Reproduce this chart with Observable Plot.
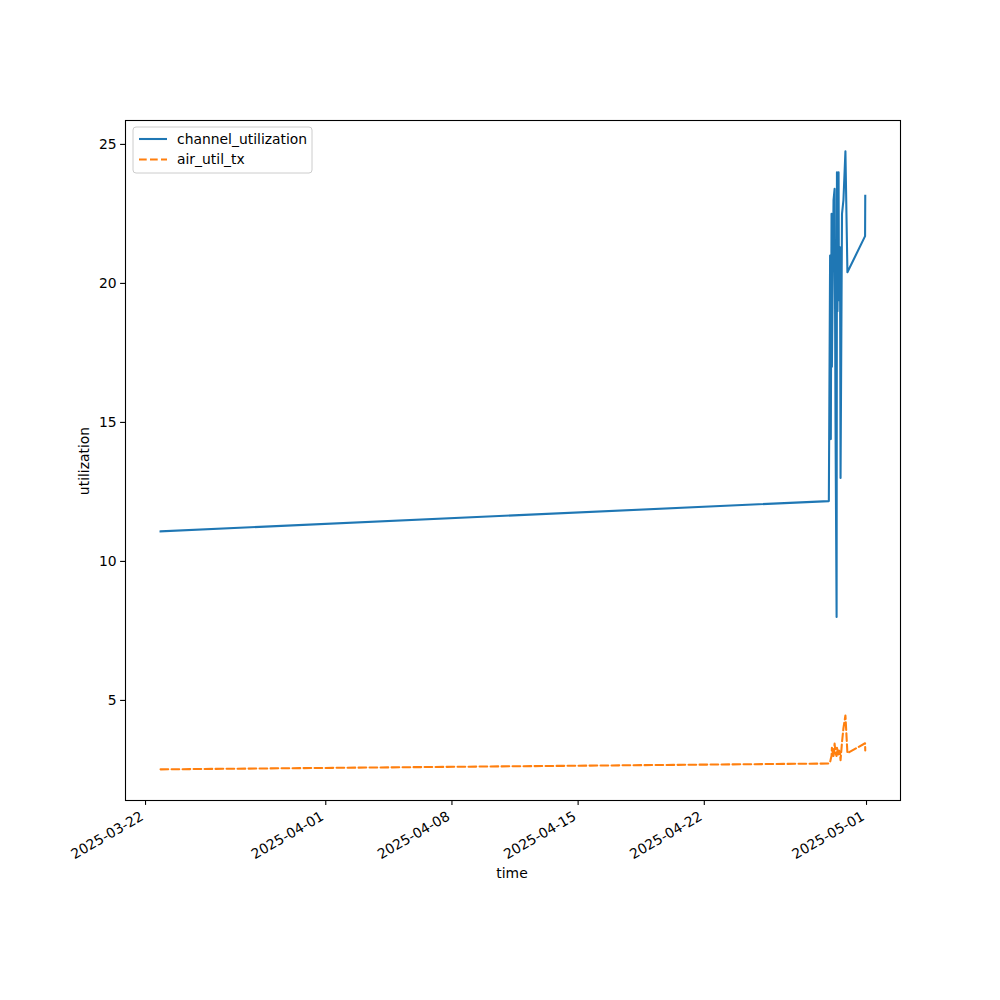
<!DOCTYPE html>
<html>
<head>
<meta charset="utf-8">
<script src="https://cdn.jsdelivr.net/npm/d3@7"></script>
<script src="https://cdn.jsdelivr.net/npm/@observablehq/plot@0.6"></script>
<style>
  html, body { margin: 0; padding: 0; background: #fff; }
  #chart { position: relative; width: 1000px; height: 1000px; }
  svg { font-family: "DejaVu Sans", sans-serif; }
</style>
</head>
<body>
<div id="chart"></div>
<script>
// ---- data ----
const times = [
  "2025-03-22T20:00", "2025-04-28T21:50", "2025-04-28T23:31", "2025-04-29T00:29",
  "2025-04-29T01:26", "2025-04-29T01:55", "2025-04-29T04:05", "2025-04-29T05:31",
  "2025-04-29T06:43", "2025-04-29T08:10", "2025-04-29T08:38", "2025-04-29T09:22",
  "2025-04-29T10:48", "2025-04-29T11:17", "2025-04-29T12:43", "2025-04-29T13:26",
  "2025-04-29T15:22", "2025-04-29T17:17", "2025-04-29T19:55", "2025-04-29T22:34",
  "2025-04-30T22:05", "2025-04-30T22:19"
];
const channelUtilization = [
  11.08, 12.17, 21.0, 14.4, 22.5, 17.0, 23.0, 23.4, 15.0, 8.0, 24.0,
  19.0, 24.0, 19.4, 21.3, 13.0, 22.5, 23.0, 24.75, 20.4, 21.7, 23.15
];
const airUtilTx = [
  2.52, 2.73, 2.78, 2.9, 3.0, 3.3, 3.0, 3.45, 3.1, 3.0, 3.3,
  3.2, 3.0, 3.2, 3.1, 2.85, 3.5, 4.0, 4.46, 3.1, 3.46, 3.2
];
const seriesNames = ["channel_utilization", "air_util_tx"];
const seriesColors = ["#1f77b4", "#ff7f0e"];
const xTicks = ["2025-03-22", "2025-04-01", "2025-04-08", "2025-04-15", "2025-04-22", "2025-05-01"];
const yTicks = [5, 10, 15, 20, 25];
const xDomain = ["2025-03-20T21:20", "2025-05-02T21:15"];
const yDomain = [1.40, 25.86];

const parse = d3.utcParse("%Y-%m-%dT%H:%M");
const parseDay = d3.utcParse("%Y-%m-%d");
const fmtDay = d3.utcFormat("%Y-%m-%d");
const rows = [];
times.forEach((t, i) => {
  rows.push({time: parse(t), value: channelUtilization[i], series: seriesNames[0]});
});
times.forEach((t, i) => {
  rows.push({time: parse(t), value: airUtilTx[i], series: seriesNames[1]});
});
const tickDates = xTicks.map(parseDay);

const fs = 13.9;
const plot = Plot.plot({
  width: 1000,
  height: 1000,
  marginLeft: 125,
  marginRight: 100,
  marginTop: 120,
  marginBottom: 200,
  style: {fontFamily: "DejaVu Sans, sans-serif", fontSize: fs + "px", color: "#000", background: "#fff"},
  x: {type: "utc", domain: xDomain.map(parse)},
  y: {domain: yDomain},
  marks: [
    Plot.frame({stroke: "#000", strokeWidth: 1.1}),
    Plot.axisY({ticks: yTicks, tickSize: 4.9, tickPadding: 4, label: null, stroke: "#000", fill: "#000", strokeWidth: 1.1}),
    Plot.axisX({ticks: tickDates, tickSize: 4.9, tickFormat: () => "", label: null, stroke: "#000", strokeWidth: 1.1}),
    Plot.text(tickDates, {
      x: d => d, frameAnchor: "bottom", text: d => fmtDay(d), rotate: -30,
      textAnchor: "end", lineAnchor: "top", dx: -6, dy: 10, fill: "#000", fontSize: fs
    }),
    Plot.line(rows.filter(d => d.series === seriesNames[0]), {
      x: "time", y: "value", stroke: seriesColors[0], strokeWidth: 2.08, strokeLinejoin: "round", strokeLinecap: "square"
    }),
    Plot.line(rows.filter(d => d.series === seriesNames[1]), {
      x: "time", y: "value", stroke: seriesColors[1], strokeWidth: 2.08, strokeDasharray: "7.7,3.3"
    })
  ]
});
document.getElementById("chart").appendChild(plot);

const svg = d3.select(plot);
// axis titles
svg.append("text").attr("x", 512).attr("y", 878).attr("text-anchor", "middle")
  .attr("font-size", fs).attr("fill", "#000").text("time");
svg.append("text").attr("transform", "translate(89,461) rotate(-90)").attr("text-anchor", "middle")
  .attr("font-size", fs).attr("fill", "#000").text("utilization");

// legend
const lg = svg.append("g").attr("text-anchor", "start");
lg.append("rect").attr("x", 133).attr("y", 127).attr("width", 179).attr("height", 46)
  .attr("rx", 3).attr("fill", "#fff").attr("fill-opacity", 0.8).attr("stroke", "#ccc");
seriesNames.forEach((name, i) => {
  const y = 139 + i * 20.5;
  lg.append("line").attr("x1", 139).attr("x2", 167).attr("y1", y).attr("y2", y)
    .attr("stroke", seriesColors[i]).attr("stroke-width", 2.08)
    .attr("stroke-dasharray", i === 1 ? "7.7,3.3" : null);
  lg.append("text").attr("x", 177).attr("y", y).attr("dy", "0.35em").attr("text-anchor", "start")
    .attr("font-size", fs).attr("fill", "#000").text(name);
});
</script>
</body>
</html>
